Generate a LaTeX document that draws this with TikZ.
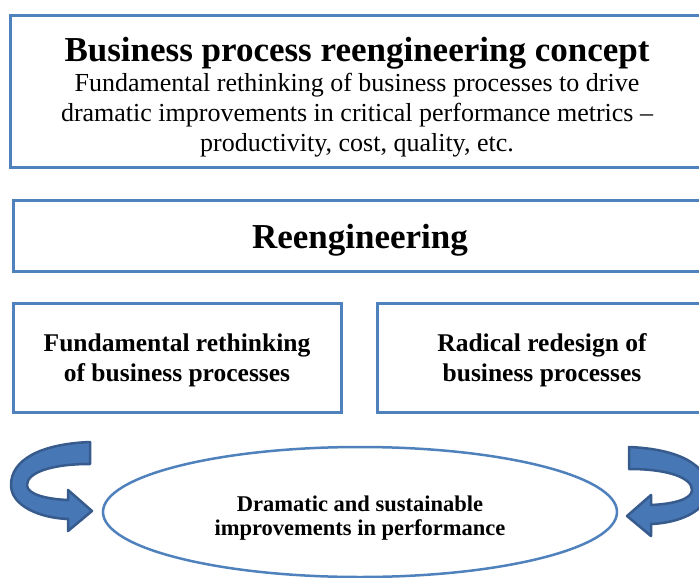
\documentclass[tikz,border=0pt]{standalone}
\usepackage{fontspec}
\setmainfont{Liberation Serif}
\usetikzlibrary{shapes.geometric}

\definecolor{boxblue}{RGB}{79,129,189}
\definecolor{swirlfill}{RGB}{72,119,182}
\definecolor{swirlline}{RGB}{54,91,140}

\tikzset{
  panel/.style={draw=boxblue, line width=3pt, inner sep=0pt},
  caption/.style={align=center, inner sep=0pt},
  swirl/.style={fill=swirlfill, draw=swirlline, line width=2.5pt, line join=round}
}

\begin{document}
\begin{tikzpicture}[x=1pt, y=-1pt]
    \clip (0,0) rectangle (699,578);

    % Concept box at top
    \node[panel, minimum width=694pt, minimum height=151pt] (concept) at (357,91.5) {};
    \node[caption, font=\fontsize{26}{30}\selectfont] (concepttext) at ([yshift=-6pt]concept.center)
      {{\fontsize{35}{30}\selectfont\bfseries Business process reengineering concept}\\
       Fundamental rethinking of business processes to drive\\
       dramatic improvements in critical performance metrics --\\
       productivity, cost, quality, etc.};

    % Reengineering bar
    \node[panel, minimum width=694pt, minimum height=71pt] (reeng) at (360,235.5) {};
    \node[caption, font=\fontsize{35}{40}\selectfont\bfseries] (reengtext)
      at ([yshift=-5pt]reeng.center) {Reengineering};

    % The two components
    \node[panel, minimum width=328pt, minimum height=109pt] (rethink) at (177,357.5) {};
    \node[caption, font=\fontsize{25.5}{30}\selectfont\bfseries] (rethinktext)
      at ([yshift=-3pt]rethink.center) {Fundamental rethinking\\ of business processes};
    \node[panel, minimum width=330pt, minimum height=109pt] (redesign) at (542,357.5) {};
    \node[caption, font=\fontsize{25.5}{30}\selectfont\bfseries] (redesigntext)
      at ([yshift=-3pt]redesign.center) {Radical redesign of\\ business processes};

    % Outcome ellipse
    \node[ellipse, draw=boxblue, line width=2.5pt, inner sep=0pt,
          minimum width=514pt, minimum height=130pt] (outcome) at (360,512) {};
    \node[caption, font=\fontsize{22.5}{24}\selectfont\bfseries] (outcometext)
      at ([yshift=-6pt]outcome.center) {Dramatic and sustainable\\ improvements in performance};

    % Curved arrows on both sides
    \draw[swirl] (90,442) .. controls (40,444) and (11,460) .. (11,485)
        .. controls (11,506) and (40,518) .. (68,519)
        -- (68,531) -- (92,511) -- (68,490) -- (68,500)
        .. controls (45,499) and (27,494) .. (27,485)
        .. controls (27,473) and (50,464) .. (90,464) -- cycle;
    \begin{scope}[xshift=719pt, yshift=-5pt, xscale=-1]
      \draw[swirl] (90,442) .. controls (40,444) and (11,460) .. (11,485)
          .. controls (11,506) and (40,518) .. (68,519)
          -- (68,531) -- (92,511) -- (68,490) -- (68,500)
          .. controls (45,499) and (27,494) .. (27,485)
          .. controls (27,473) and (50,464) .. (90,464) -- cycle;
    \end{scope}
\end{tikzpicture}
\end{document}
